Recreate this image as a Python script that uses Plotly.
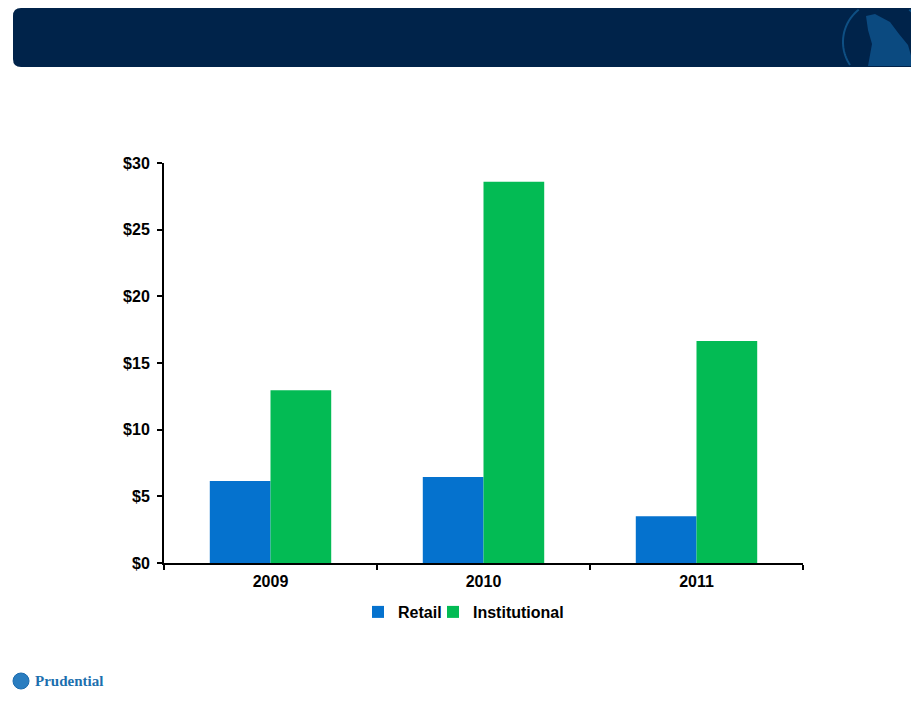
import math
import plotly.graph_objects as go

# --- datos
years = ["2009", "2010", "2011"]
retail = [6.15, 6.45, 3.5]
institutional = [12.95, 28.6, 16.65]

# la página añade 8px de margen al cuerpo: se compensa
OFF = 8
W, H = 919 - OFF, 704 - OFF
L, R, T, B = 164 - OFF, 116, 163 - OFF, 141
PW, PH = W - L - R, H - T - B


def px(x):
    # pixel x de la referencia -> paper
    return (x - OFF - L) / PW


def py(y):
    # pixel y de la referencia -> paper
    return (H - B - (y - OFF)) / PH


def rounded_rect(x0, y0, x1, y1, r):
    pts = [
        f"M{px(x0 + r)},{py(y0)}",
        f"L{px(x1 - r)},{py(y0)}",
        f"Q{px(x1)},{py(y0)} {px(x1)},{py(y0 + r)}",
        f"L{px(x1)},{py(y1 - r)}",
        f"Q{px(x1)},{py(y1)} {px(x1 - r)},{py(y1)}",
        f"L{px(x0 + r)},{py(y1)}",
        f"Q{px(x0)},{py(y1)} {px(x0)},{py(y1 - r)}",
        f"L{px(x0)},{py(y0 + r)}",
        f"Q{px(x0)},{py(y0)} {px(x0 + r)},{py(y0)}",
        "Z",
    ]
    return " ".join(pts)


def clipped_circle(cx, cy, r, xmax, ymin, ymax):
    # arco del emblema recortado a la cabecera
    segs, cur = [], []
    for i in range(181):
        a = 2 * math.pi * i / 180
        x, y = cx + r * math.cos(a), cy + r * math.sin(a)
        if x <= xmax and ymin <= y <= ymax:
            cur.append((x, y))
        elif cur:
            segs.append(cur)
            cur = []
    if cur:
        segs.append(cur)
    path = ""
    for s in segs:
        path += f"M{px(s[0][0])},{py(s[0][1])} " + " ".join(
            f"L{px(x)},{py(y)}" for x, y in s[1:]) + " "
    return path


fig = go.Figure()
fig.add_bar(x=years, y=retail, name="Retail", marker_color="#0572CE",
            marker_line_width=0, legend="legend")
fig.add_bar(x=years, y=institutional, name="Institutional", marker_color="#03BB54",
            marker_line_width=0, legend="legend2")

shapes = []
# --- cabecera azul
shapes.append(dict(type="path", xref="paper", yref="paper",
                   path=rounded_rect(13, 8, 918, 67, 8),
                   fillcolor="#00234A", line_width=0, layer="below"))
# emblema
shapes.append(dict(type="path", xref="paper", yref="paper",
                   path=(f"M{px(866)},{py(16)} L{px(875)},{py(14)} L{px(890)},{py(22)} "
                         f"L{px(899)},{py(34)} L{px(908)},{py(45)} L{px(914)},{py(66)} "
                         f"L{px(868)},{py(66)} L{px(872)},{py(44)} L{px(868)},{py(30)} Z"),
                   fillcolor="#0B4A80", line_width=0))
shapes.append(dict(type="path", xref="paper", yref="paper",
                   path=clipped_circle(884, 42, 41, 916, 9, 66),
                   line=dict(color="#0E4F83", width=2)))
# logo inferior
shapes.append(dict(type="circle", xref="paper", yref="paper",
                   x0=px(13), x1=px(29), y0=py(689), y1=py(673),
                   fillcolor="#2A7DC0", line=dict(color="#1B6BAE", width=1)))

leg = dict(orientation="h", xanchor="left", y=py(612), yanchor="middle",
           font=dict(size=16, weight="bold"), itemwidth=30, bgcolor="rgba(0,0,0,0)")

fig.update_layout(
    width=W, height=H,
    margin=dict(l=L, r=R, t=T, b=B, autoexpand=False),
    paper_bgcolor="white", plot_bgcolor="white",
    barmode="group", bargap=0.43, bargroupgap=0,
    font=dict(family="Liberation Sans, Arial, sans-serif", color="black"),
    showlegend=True,
    legend=dict(leg, x=px(358)),
    legend2=dict(leg, x=px(433)),
    shapes=shapes,
    annotations=[dict(text="Prudential", xref="paper", yref="paper",
                      x=px(33), y=py(681), xanchor="left", yanchor="middle",
                      showarrow=False,
                      font=dict(family="Liberation Serif, serif", size=15,
                                color="#1C6FAE", weight="bold"))],
)

fig.update_xaxes(
    type="category", showline=True, linecolor="black", linewidth=2,
    ticks="outside", tickson="boundaries", ticklen=5, tickwidth=1.5, tickcolor="black",
    ticklabelstandoff=3,
    tickfont=dict(size=16, weight="bold"), showgrid=False, zeroline=False,
)
fig.update_yaxes(
    range=[0, 30], dtick=5, tickprefix="$", showline=True, linecolor="black", linewidth=2,
    ticks="outside", ticklen=5, tickwidth=1.5, tickcolor="black",
    ticklabelstandoff=4,
    tickfont=dict(size=16, weight="bold"), showgrid=False, zeroline=False,
)

fig.write_html("out.html")
